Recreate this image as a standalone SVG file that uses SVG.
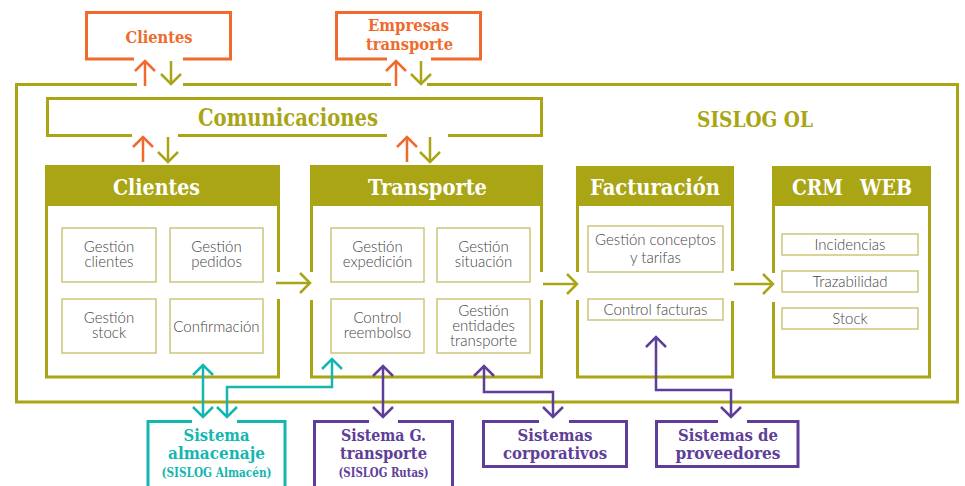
<svg xmlns="http://www.w3.org/2000/svg" width="965" height="486" viewBox="0 0 965 486">
<style>
.bg{fill:#ffffff}
.ol{fill:none;stroke:#A9A515;stroke-width:3}
.or{fill:none;stroke:#EF6A2C;stroke-width:3}
.tl{fill:none;stroke:#14B6B1;stroke-width:3}
.pu{fill:none;stroke:#5E3E98;stroke-width:3}
.hd{fill:#A9A515}
.ib{fill:#ffffff;stroke:#CBC67A;stroke-width:1.5}
.slab{font-family:"DejaVu Serif","Liberation Serif",serif;font-weight:bold;font-stretch:condensed;text-anchor:middle}
.ht{font-size:22px;fill:#ffffff}
.ot{font-size:17px;fill:#EF6A2C}
.gt{fill:#A9A515}
.tt{fill:#14B6B1}
.pt{fill:#5E3E98}
.bt{font-size:16.5px}
.st{font-size:12px}
.in{font-family:Lato,"Open Sans","Liberation Sans",sans-serif;font-weight:300;font-size:15px;fill:#454545;text-anchor:middle}
.c-ol{fill:none;stroke:#A9A515;stroke-width:2.5}
.c-or{fill:none;stroke:#EF6A2C;stroke-width:2.5}
.c-tl{fill:none;stroke:#14B6B1;stroke-width:2.5}
.c-pu{fill:none;stroke:#5E3E98;stroke-width:2.5}
</style>
<defs>
<marker id="mOl" viewBox="-12 -12 24 24" refX="0" refY="0" markerWidth="24" markerHeight="24" markerUnits="userSpaceOnUse" orient="auto-start-reverse"><path d="M-10,-10 L0,0 L-10,10" fill="none" stroke="#A9A515" stroke-width="2.5"/></marker>
<marker id="mOr" viewBox="-12 -12 24 24" refX="0" refY="0" markerWidth="24" markerHeight="24" markerUnits="userSpaceOnUse" orient="auto-start-reverse"><path d="M-10,-10 L0,0 L-10,10" fill="none" stroke="#EF6A2C" stroke-width="2.5"/></marker>
<marker id="mTl" viewBox="-12 -12 24 24" refX="0" refY="0" markerWidth="24" markerHeight="24" markerUnits="userSpaceOnUse" orient="auto-start-reverse"><path d="M-10,-10 L0,0 L-10,10" fill="none" stroke="#14B6B1" stroke-width="2.5"/></marker>
<marker id="mPu" viewBox="-12 -12 24 24" refX="0" refY="0" markerWidth="24" markerHeight="24" markerUnits="userSpaceOnUse" orient="auto-start-reverse"><path d="M-10,-10 L0,0 L-10,10" fill="none" stroke="#5E3E98" stroke-width="2.5"/></marker>
</defs>
<rect class="bg" x="0" y="0" width="965" height="486"/>

<g id="sislog-ol">
<path class="ol" d="M137,84.5 H16.5 V402 H957.5 V84.5 H427 M391,84.5 H183"/>
<text class="slab gt" x="755" y="127" font-size="22" textLength="116" lengthAdjust="spacingAndGlyphs">SISLOG OL</text>
</g>

<g id="ext-clientes">
<path class="or" d="M134,59 H86.5 V12.5 H230.5 V59 H183"/>
<text class="slab ot" x="159" y="43" textLength="67" lengthAdjust="spacingAndGlyphs">Clientes</text>
</g>

<g id="ext-empresas-transporte">
<path class="or" d="M387,59 H336.5 V12.5 H480.5 V59 H431"/>
<text class="slab ot" x="409" y="31"><tspan x="408.5" textLength="81" lengthAdjust="spacingAndGlyphs">Empresas</tspan><tspan x="409.5" y="49.5" textLength="87" lengthAdjust="spacingAndGlyphs">transporte</tspan></text>
</g>

<g id="comunicaciones">
<path class="ol" d="M132,135.5 H47.5 V98.5 H541.5 V135.5 H448 M387,135.5 H178"/>
<text class="slab gt" x="288" y="126" font-size="24" textLength="180" lengthAdjust="spacingAndGlyphs">Comunicaciones</text>
</g>

<g id="mod-clientes">
<rect class="hd" x="45" y="165" width="235" height="41"/>
<path class="ol" d="M46.5,206 V377 H278.5 V299 M278.5,272 V206"/>
<text class="slab ht" x="156.5" y="195" textLength="87" lengthAdjust="spacingAndGlyphs">Clientes</text>
<rect class="ib" x="62" y="228" width="94" height="54"/>
<rect class="ib" x="170" y="228" width="93" height="54"/>
<rect class="ib" x="62" y="299" width="94" height="54"/>
<rect class="ib" x="170" y="299" width="93" height="54"/>
<text class="in" x="109" y="252">Gestión<tspan x="109" y="267">clientes</tspan></text>
<text class="in" x="216.5" y="252">Gestión<tspan x="216.5" y="267">pedidos</tspan></text>
<text class="in" x="109" y="323">Gestión<tspan x="109" y="338">stock</tspan></text>
<text class="in" x="216.5" y="332">Confirmación</text>
</g>

<g id="mod-transporte">
<rect class="hd" x="310" y="165" width="233" height="41"/>
<path class="ol" d="M311.5,206 V272 M311.5,300 V377 H541.5 V300 M541.5,272 V206"/>
<text class="slab ht" x="427.5" y="195" textLength="119" lengthAdjust="spacingAndGlyphs">Transporte</text>
<rect class="ib" x="331" y="228" width="93" height="54"/>
<rect class="ib" x="437" y="228" width="93" height="54"/>
<rect class="ib" x="331" y="299" width="93" height="54"/>
<rect class="ib" x="437" y="299" width="93" height="54"/>
<text class="in" x="377.5" y="252">Gestión<tspan x="377.5" y="267">expedición</tspan></text>
<text class="in" x="483.5" y="252">Gestión<tspan x="483.5" y="267">situación</tspan></text>
<text class="in" x="377.5" y="323">Control<tspan x="377.5" y="338">reembolso</tspan></text>
<text class="in" x="483.5" y="316">Gestión<tspan x="483.5" y="331">entidades</tspan><tspan x="483.5" y="346">transporte</tspan></text>
</g>

<g id="mod-facturacion">
<rect class="hd" x="576" y="166" width="158" height="40"/>
<path class="ol" d="M577.5,206 V272 M577.5,300 V377 H732.5 V301 M732.5,271 V206"/>
<text class="slab ht" x="655" y="195" textLength="130" lengthAdjust="spacingAndGlyphs">Facturación</text>
<rect class="ib" x="588" y="226" width="135" height="46"/>
<rect class="ib" x="588" y="299" width="135" height="21"/>
<text class="in" x="655.5" y="245">Gestión conceptos<tspan x="655.5" y="263">y tarifas</tspan></text>
<text class="in" x="655.5" y="315">Control facturas</text>
</g>

<g id="mod-crm-web">
<rect class="hd" x="772" y="166" width="159" height="40"/>
<path class="ol" d="M773.5,206 V273 M773.5,302 V377 H929.5 V206"/>
<text class="slab ht" y="195"><tspan x="817.5" textLength="51" lengthAdjust="spacingAndGlyphs">CRM</tspan><tspan x="886" textLength="52" lengthAdjust="spacingAndGlyphs">WEB</tspan></text>
<rect class="ib" x="782" y="234" width="136" height="21"/>
<rect class="ib" x="782" y="271" width="136" height="21"/>
<rect class="ib" x="782" y="308" width="136" height="21"/>
<text class="in" x="850" y="250">Incidencias</text>
<text class="in" x="850" y="287">Trazabilidad</text>
<text class="in" x="850" y="324">Stock</text>
</g>

<g id="sistema-almacenaje">
<path class="tl" d="M192,421.5 H148 V492 M285,492 V421.5 H237"/>
<text class="slab tt bt" x="216.5" y="441"><tspan x="216.5" textLength="66" lengthAdjust="spacingAndGlyphs">Sistema</tspan><tspan x="216.5" y="459" textLength="97" lengthAdjust="spacingAndGlyphs">almacenaje</tspan></text>
<text class="slab tt st" x="216.5" y="477" textLength="110" lengthAdjust="spacingAndGlyphs">(SISLOG Almacén)</text>
</g>

<g id="sistema-g-transporte">
<path class="pu" d="M369,421.5 H314.5 V492 M452.5,492 V421.5 H398"/>
<text class="slab pt bt" x="383.5" y="441"><tspan x="383.5" textLength="85" lengthAdjust="spacingAndGlyphs">Sistema G.</tspan><tspan x="383.5" y="459" textLength="87" lengthAdjust="spacingAndGlyphs">transporte</tspan></text>
<text class="slab pt st" x="383.5" y="477" textLength="90" lengthAdjust="spacingAndGlyphs">(SISLOG Rutas)</text>
</g>

<g id="sistemas-corporativos">
<path class="pu" d="M539,421.5 H483.5 V466.5 H626.5 V421.5 H569"/>
<text class="slab pt bt" x="555" y="441"><tspan x="555" textLength="75" lengthAdjust="spacingAndGlyphs">Sistemas</tspan><tspan x="555" y="459" textLength="104" lengthAdjust="spacingAndGlyphs">corporativos</tspan></text>
</g>

<g id="sistemas-proveedores">
<path class="pu" d="M718,421.5 H656.5 V466.5 H798 V421.5 H747"/>
<text class="slab pt bt" x="728" y="441"><tspan x="728" textLength="100" lengthAdjust="spacingAndGlyphs">Sistemas de</tspan><tspan x="728" y="459" textLength="105" lengthAdjust="spacingAndGlyphs">proveedores</tspan></text>
</g>

<g id="connectors">
<path class="c-or" d="M145,86 V61" marker-end="url(#mOr)"/>
<path class="c-ol" d="M171,61 V84" marker-end="url(#mOl)"/>
<path class="c-or" d="M396,86 V61" marker-end="url(#mOr)"/>
<path class="c-ol" d="M421,61 V84" marker-end="url(#mOl)"/>
<path class="c-or" d="M143,162 V137" marker-end="url(#mOr)"/>
<path class="c-ol" d="M168,137 V162" marker-end="url(#mOl)"/>
<path class="c-or" d="M407,162 V137" marker-end="url(#mOr)"/>
<path class="c-ol" d="M430,137 V162" marker-end="url(#mOl)"/>
<path class="c-ol" d="M276,283 H310" marker-end="url(#mOl)"/>
<path class="c-ol" d="M543,284 H577" marker-end="url(#mOl)"/>
<path class="c-ol" d="M734,284 H773" marker-end="url(#mOl)"/>
<path class="c-tl" d="M203,365 V417" marker-start="url(#mTl)" marker-end="url(#mTl)"/>
<path class="c-tl" d="M332,359 V387 H227 V417" marker-start="url(#mTl)" marker-end="url(#mTl)"/>
<path class="c-pu" d="M383,366 V417" marker-start="url(#mPu)" marker-end="url(#mPu)"/>
<path class="c-pu" d="M484,366 V392 H553 V417" marker-start="url(#mPu)" marker-end="url(#mPu)"/>
<path class="c-pu" d="M656,337 V390 H731 V417" marker-start="url(#mPu)" marker-end="url(#mPu)"/>
</g>
</svg>
